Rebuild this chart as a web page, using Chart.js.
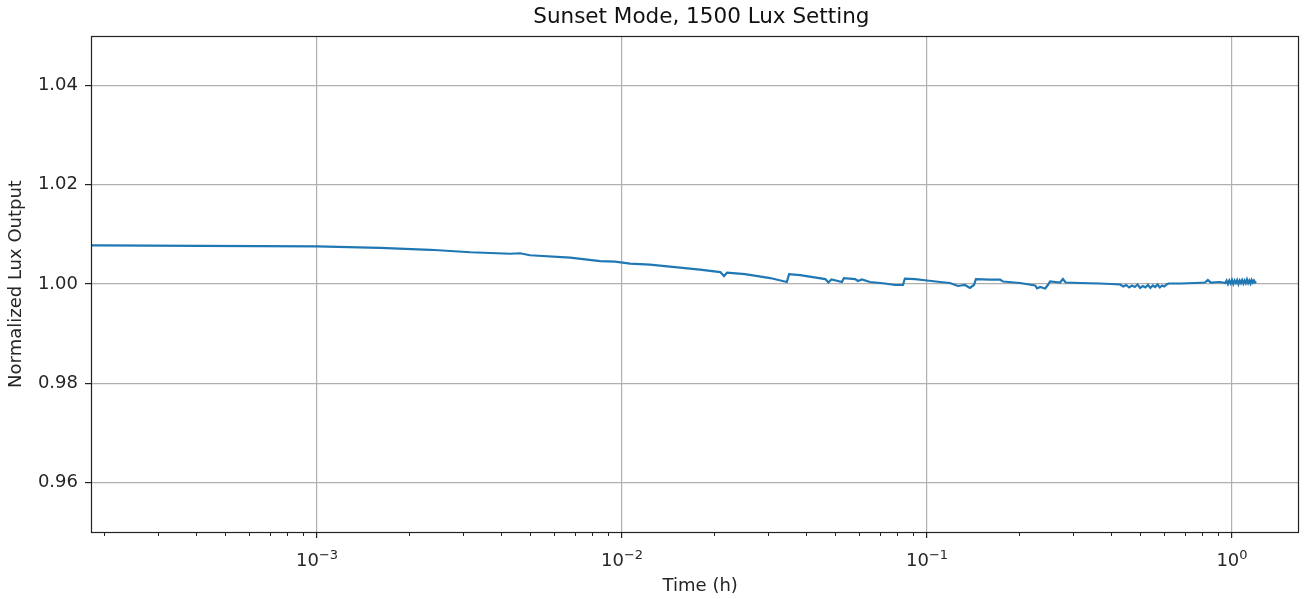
<!DOCTYPE html>
<html>
<head>
<meta charset="utf-8">
<script src="https://cdn.jsdelivr.net/npm/chart.js@4"></script>
<style>
  html, body { margin: 0; padding: 0; background: #fff; }
  #wrap { width: 1311px; height: 599px; position: relative; }
</style>
</head>
<body>
<div id="wrap"><canvas id="c"></canvas></div>
<script>
// ---- Data ----
const timeHours = [
  0.000001, 0.0001945, 0.000413, 0.001, 0.00161, 0.00235, 0.00318, 0.0043, 0.00463, 0.00499,
  0.00676, 0.00848, 0.00949, 0.01062, 0.01235, 0.01436, 0.0180, 0.0210, 0.0216, 0.0221,
  0.0253, 0.0306, 0.0347, 0.0353, 0.0384, 0.0464, 0.0475, 0.0486, 0.0526, 0.0534,
  0.0581, 0.0594, 0.0612, 0.0650, 0.0728, 0.0785, 0.0834, 0.0846, 0.0914, 0.1000,
  0.1104, 0.1189, 0.1263, 0.1331, 0.1383, 0.1425, 0.1447, 0.161, 0.1736, 0.1775,
  0.2018, 0.2262, 0.2296, 0.235, 0.244, 0.249, 0.2533, 0.2731, 0.279, 0.285,
  0.3177, 0.3692, 0.400, 0.430, 0.440, 0.450, 0.460, 0.470, 0.480, 0.490,
  0.500, 0.510, 0.520, 0.530, 0.540, 0.550, 0.560, 0.570, 0.580, 0.590,
  0.600, 0.610, 0.620, 0.6761, 0.757, 0.815, 0.8336, 0.8527, 0.9134, 0.950,
  0.960, 0.970, 0.980, 0.990, 1.000, 1.010, 1.020, 1.030, 1.040, 1.050,
  1.060, 1.070, 1.080, 1.090, 1.100, 1.110, 1.120, 1.130, 1.140, 1.150,
  1.160, 1.170, 1.180, 1.190, 1.200
];
const normalizedLux = [
  1.0078, 1.0078, 1.0077, 1.0076, 1.0073, 1.0069, 1.0064, 1.0061, 1.0062, 1.0058,
  1.0053, 1.0046, 1.0045, 1.0041, 1.0039, 1.0035, 1.0029, 1.0024, 1.0016, 1.0023,
  1.0020, 1.0012, 1.0004, 1.0020, 1.0018, 1.0010, 1.0003, 1.0009, 1.0004, 1.0012,
  1.0010, 1.0006, 1.0009, 1.0004, 1.0001, 0.9998, 0.9998, 1.0011, 1.0010, 1.0007,
  1.0004, 1.0002, 0.9996, 0.9998, 0.9992, 0.9998, 1.0010, 1.0009, 1.0009, 1.0005,
  1.0002, 0.9997, 0.9991, 0.9994, 0.9991, 0.9998, 1.0005, 1.0003, 1.0010, 1.0003,
  1.0002, 1.0001, 1.0000, 0.9999, 0.9995, 0.9998, 0.9993, 0.9997, 0.9994, 0.9999,
  0.9992, 0.9996, 0.9993, 0.9998, 0.9992, 0.9997, 0.9994, 0.9999, 0.9993, 0.9997,
  0.9995, 0.9999, 1.0001, 1.0001, 1.0002, 1.0003, 1.0008, 1.0003, 1.0004, 1.0002,
  1.0007, 1.0000, 1.0007, 1.0001, 1.0008, 1.0000, 1.0007, 1.0002, 1.0008, 1.0000,
  1.0007, 1.0002, 1.0008, 1.0001, 1.0007, 1.0002, 1.0009, 1.0002, 1.0007, 1.0001,
  1.0008, 1.0003, 1.0007, 1.0003, 1.0005
];
const xMajorTicks = [0.001, 0.01, 0.1, 1];
const xTickExponents = ['\u22123', '\u22122', '\u22121', '0'];
const yTicks = [0.96, 0.98, 1.00, 1.02, 1.04];
const xMin = 0.0001815, xMax = 1.646;
const yMin = 0.95, yMax = 1.05;

const points = timeHours.map((t, i) => ({ x: t, y: normalizedLux[i] }));

const minorTicks = [];
for (let e = -4; e <= 0; e++) {
  for (let m = 2; m <= 9; m++) {
    const v = m * Math.pow(10, e);
    if (v >= xMin && v <= xMax) minorTicks.push(v);
  }
}

const FONT = "'DejaVu Sans', sans-serif";
const LABEL_SIZE = 18;
const TEXT_COLOR = '#262626';

const framePlugin = {
  id: 'frame',
  afterDraw(chart) {
    const { ctx, chartArea: a } = chart;
    const xs = chart.scales.x;
    ctx.save();
    // minor ticks
    ctx.strokeStyle = '#222';
    ctx.lineWidth = 1;
    ctx.beginPath();
    minorTicks.forEach(v => {
      const px = Math.round(xs.getPixelForValue(v)) + 0.5;
      ctx.moveTo(px, a.bottom);
      ctx.lineTo(px, a.bottom + 4);
    });
    ctx.stroke();
    // frame
    ctx.lineWidth = 1.2;
    ctx.strokeStyle = '#222';
    ctx.strokeRect(Math.round(a.left) + 0.5, Math.round(a.top) + 0.5,
                   Math.round(a.right - a.left), Math.round(a.bottom - a.top));
    // x tick labels 10^n with superscript
    const baseFont = `${LABEL_SIZE}px ${FONT}`;
    const supFont = `${Math.round(LABEL_SIZE * 0.7)}px ${FONT}`;
    ctx.fillStyle = TEXT_COLOR;
    ctx.textBaseline = 'alphabetic';
    ctx.textAlign = 'left';
    xMajorTicks.forEach((v, i) => {
      const px = xs.getPixelForValue(v);
      ctx.font = baseFont;
      const wb = ctx.measureText('10').width;
      ctx.font = supFont;
      const ws = ctx.measureText(xTickExponents[i]).width;
      const x0 = px - (wb + ws) / 2;
      const baseY = a.bottom + 34;
      ctx.font = baseFont;
      ctx.fillText('10', x0, baseY);
      ctx.font = supFont;
      ctx.fillText(xTickExponents[i], x0 + wb, baseY - 7);
    });
    ctx.restore();
  }
};

new Chart(document.getElementById('c'), {
  type: 'line',
  data: {
    datasets: [{
      data: points,
      borderColor: '#1f77b4',
      borderWidth: 2.2,
      pointRadius: 0,
      tension: 0,
      fill: false
    }]
  },
  options: {
    responsive: true,
    maintainAspectRatio: false,
    animation: false,
    layout: { padding: { left: 0, right: 13, top: 0, bottom: 0 } },
    plugins: {
      legend: { display: false },
      tooltip: { enabled: false },
      title: {
        display: true,
        fullSize: false,
        text: '  Sunset Mode, 1500 Lux Setting',
        color: '#111',
        font: { family: FONT, size: 21.5, weight: 'normal' },
        padding: { top: 5, bottom: 5.2 }
      }
    },
    scales: {
      x: {
        type: 'logarithmic',
        min: xMin,
        max: xMax,
        afterBuildTicks(scale) { scale.ticks = xMajorTicks.map(v => ({ value: v })); },
        afterFit(scale) { scale.height = 67; },
        ticks: {
          autoSkip: false,
          maxRotation: 0,
          color: 'rgba(0,0,0,0)',
          padding: 6,
          font: { family: FONT, size: LABEL_SIZE },
          callback(value) { return '10'; }
        },
        grid: { color: '#b0b0b0', lineWidth: 1.2, tickLength: 6, tickColor: '#222' },
        border: { display: false },
        title: {
          display: true,
          text: '  Time (h)',
          color: TEXT_COLOR,
          font: { family: FONT, size: LABEL_SIZE },
          padding: { top: 0, bottom: 2 }
        }
      },
      y: {
        type: 'linear',
        min: yMin,
        max: yMax,
        afterBuildTicks(scale) { scale.ticks = yTicks.map(v => ({ value: v })); },
        afterFit(scale) { scale.width = 91; },
        ticks: {
          color: TEXT_COLOR,
          padding: 7,
          font: { family: FONT, size: LABEL_SIZE },
          callback(value) { return Number(value).toFixed(2); }
        },
        grid: { color: '#b0b0b0', lineWidth: 1.2, tickLength: 6, tickColor: '#222' },
        border: { display: false },
        title: {
          display: true,
          text: 'Normalized Lux Output',
          color: TEXT_COLOR,
          font: { family: FONT, size: LABEL_SIZE },
          padding: { top: 6, bottom: 0 }
        }
      }
    }
  },
  plugins: [framePlugin]
});
</script>
</body>
</html>
